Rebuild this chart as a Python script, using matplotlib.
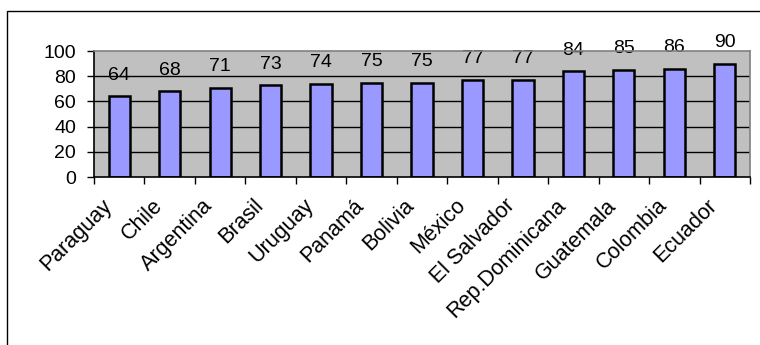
import matplotlib
matplotlib.use("Agg")
import matplotlib.pyplot as plt
from matplotlib.patches import Rectangle
from matplotlib.transforms import ScaledTranslation
import numpy as np

countries = ["Paraguay", "Chile", "Argentina", "Brasil", "Uruguay", "Panamá", "Bolivia",
             "México", "El Salvador", "Rep.Dominicana", "Guatemala", "Colombia", "Ecuador"]
values = [64, 68, 71, 73, 74, 75, 75, 77, 77, 84, 85, 86, 90]
yticks = [0, 20, 40, 60, 80, 100]

plt.rcParams['font.family'] = ['Liberation Sans', 'DejaVu Sans']

fig = plt.figure(figsize=(7.6, 3.45), dpi=100)
fig.patch.set_facecolor('white')
# outer chart frame (cut off at right and bottom)
fig.patches.append(Rectangle((7/760, -0.2), 2.0, 1.2 - 11/345, transform=fig.transFigure,
                             fill=False, edgecolor='black', linewidth=1.0))

ax = fig.add_axes([94/760, 1 - 177/345, (750 - 94)/760, (177 - 51)/345])
ax.set_facecolor('#C0C0C0')

x = np.arange(len(countries))
ax.bar(x, values, width=0.42, color='#9999FF', edgecolor='black', linewidth=1.8, zorder=3)

for xi, v in zip(x, values):
    ax.annotate(str(v), (xi, v), xytext=(0, 9), textcoords='offset points',
                ha='center', va='bottom', fontsize=14, zorder=4, annotation_clip=False)

ax.set_xlim(-0.5, len(countries) - 0.5)
ax.set_ylim(0, 100)
ax.set_yticks(yticks)
ax.set_yticklabels([str(t) for t in yticks], fontsize=14)
ax.tick_params(axis='y', direction='out', length=5, width=1, pad=8)

for t in yticks[1:-1]:
    ax.axhline(t, color='black', linewidth=1.0, zorder=2)

ax.set_xticks(x)
ax.set_xticklabels(countries, fontsize=15.5, rotation=45, ha='right', va='top',
                   rotation_mode='anchor')
ax.tick_params(axis='x', length=0, pad=13)
for lab in ax.get_xticklabels():
    lab.set_transform(lab.get_transform() + ScaledTranslation(-18/100, 0, fig.dpi_scale_trans))
ax.set_xticks(np.arange(-0.5, len(countries)), minor=True)
ax.tick_params(axis='x', which='minor', length=5, width=1, direction='out')

ax.spines['left'].set_color('black')
ax.spines['bottom'].set_color('black')
ax.spines['top'].set_color('#808080')
ax.spines['right'].set_color('#808080')
for s in ax.spines.values():
    s.set_linewidth(1.2)
    s.set_zorder(5)

fig.savefig('out.png', dpi=100)
